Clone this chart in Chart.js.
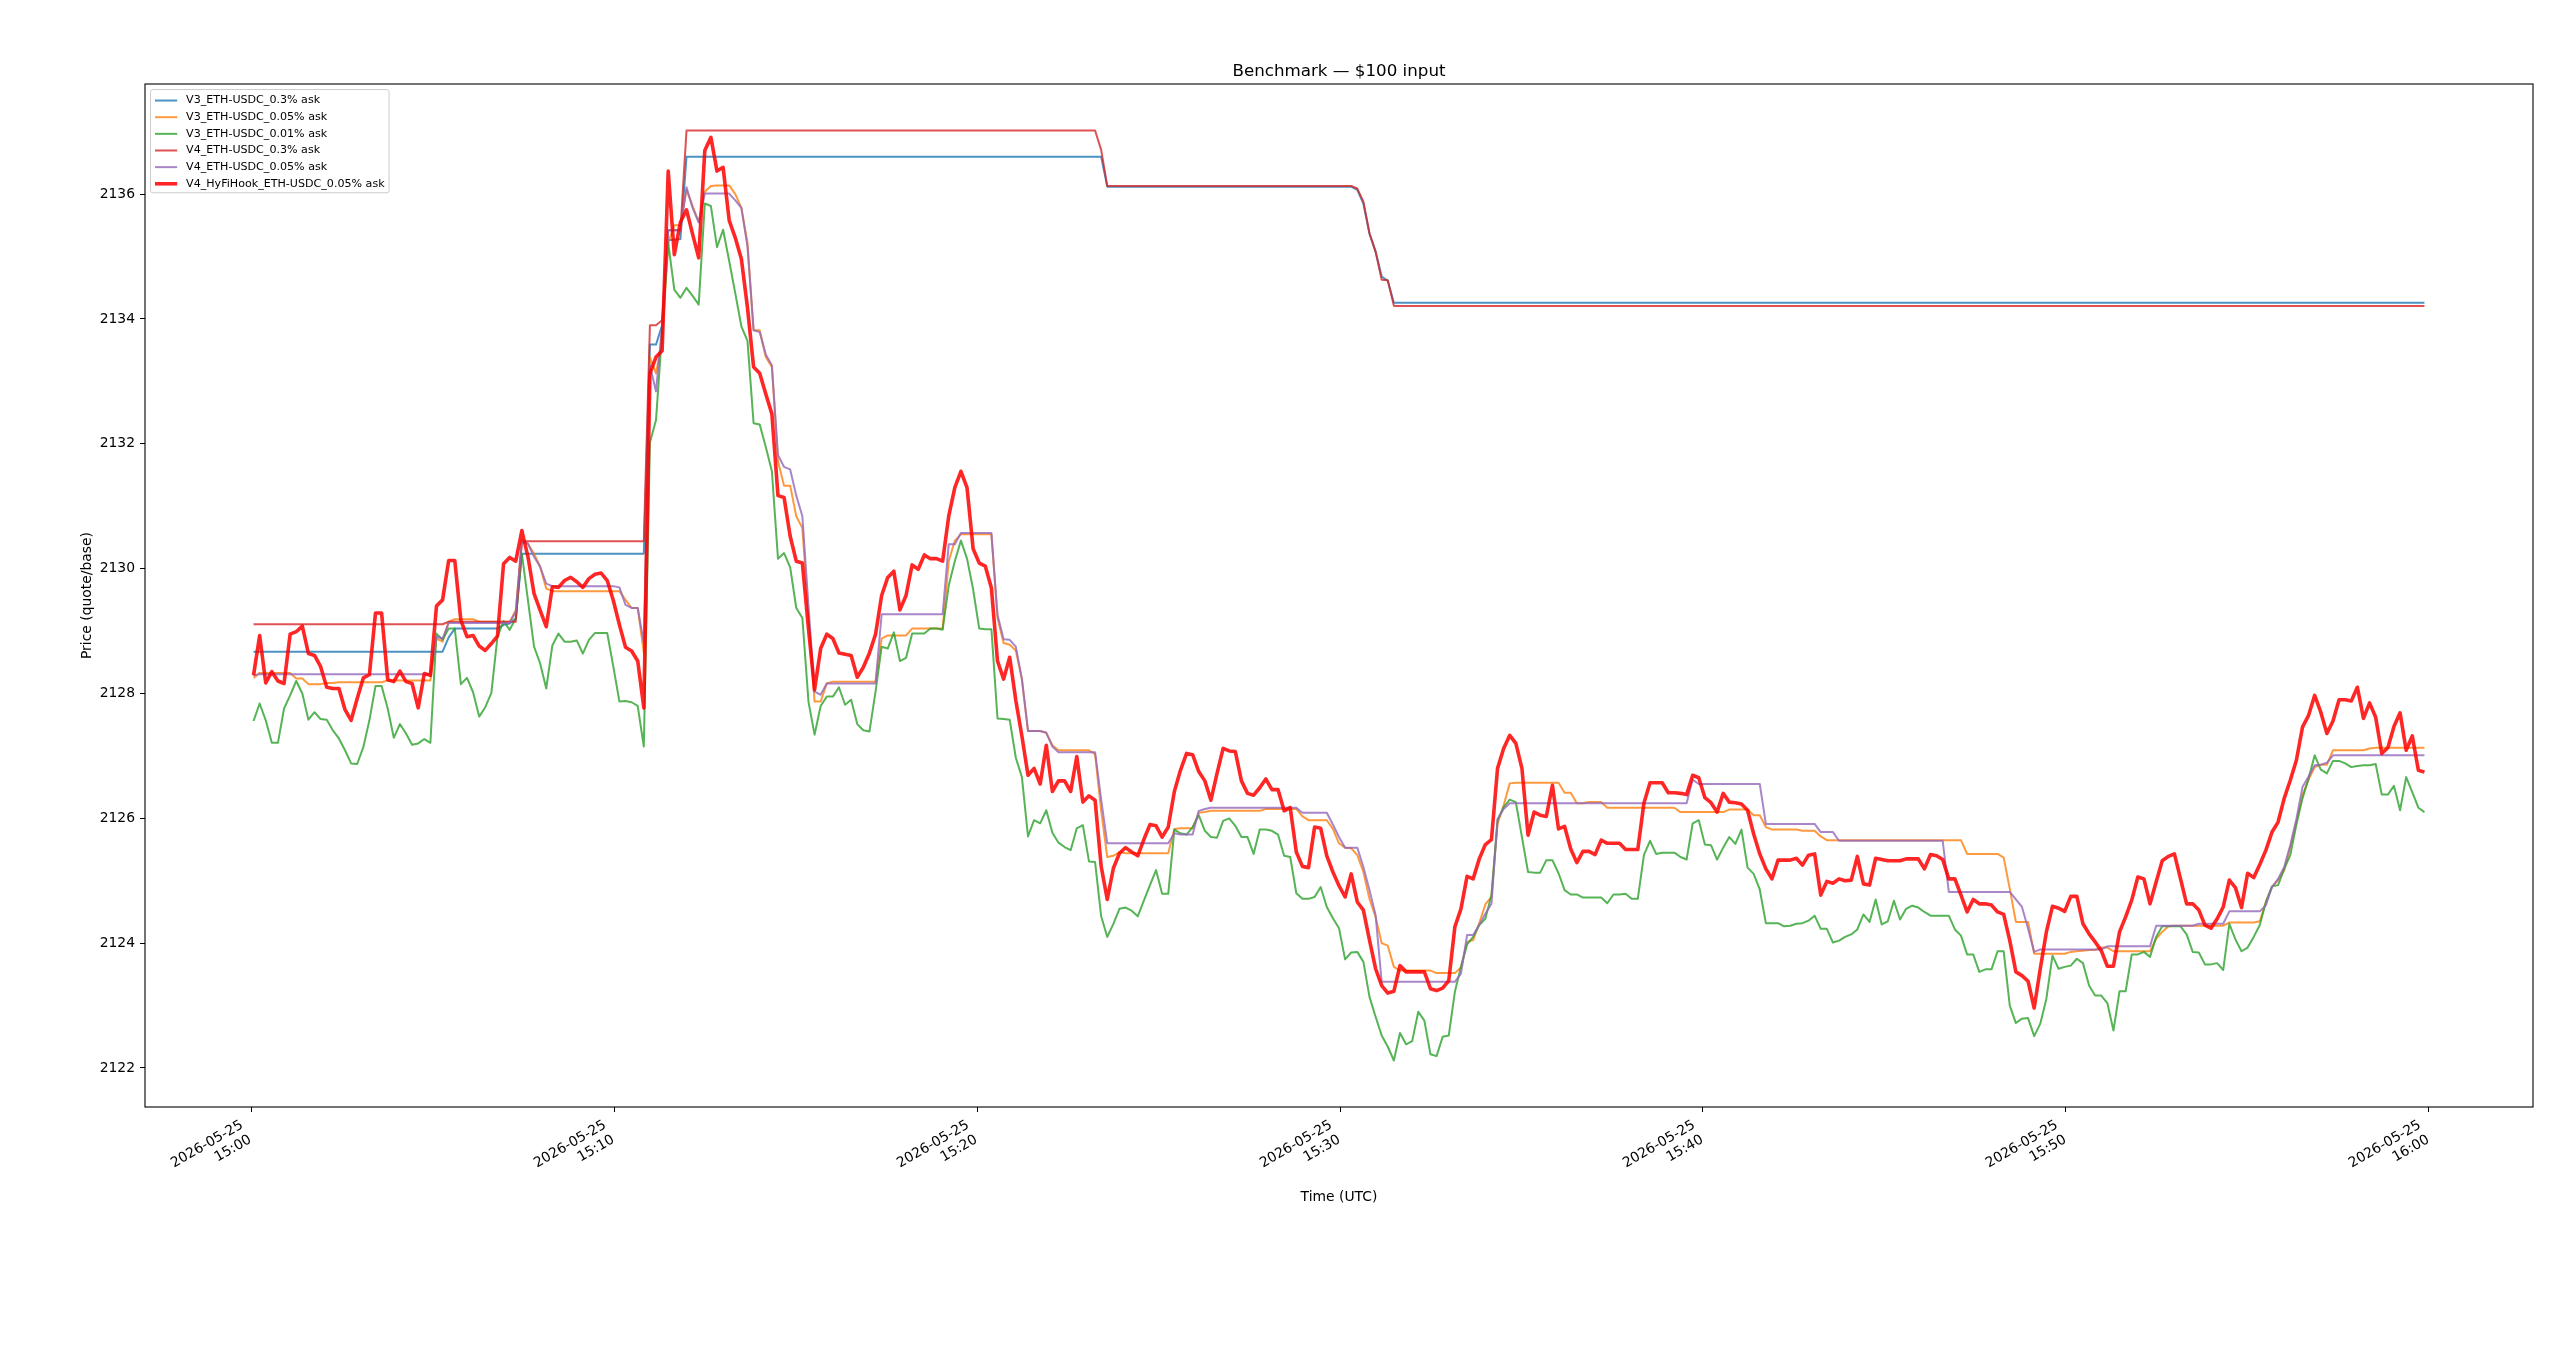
<!DOCTYPE html>
<html>
<head>
<meta charset="utf-8">
<title>Benchmark — $100 input</title>
<script src="https://cdn.jsdelivr.net/npm/chart.js@4.4.1/dist/chart.umd.min.js"></script>
<style>
  html, body { margin: 0; padding: 0; background: #fff; }
  #benchChart { display: block; width: 2560px; height: 1357px; }
</style>
</head>
<body>
<canvas id="benchChart" width="2560" height="1357"></canvas>
<script>
// samples are ~10 s apart, first one a few seconds after 15:00 UTC
const firstSampleSec = 4.1;
const sampleStepSec = 10.08;

const seriesLabels = [
  'V3_ETH-USDC_0.3% ask',
  'V3_ETH-USDC_0.05% ask',
  'V3_ETH-USDC_0.01% ask',
  'V4_ETH-USDC_0.3% ask',
  'V4_ETH-USDC_0.05% ask',
  'V4_HyFiHook_ETH-USDC_0.05% ask'
];

const timeTickSec = [0, 600, 1200, 1800, 2400, 3000, 3600];
const timeTickLabels = [
  ['2026-05-25', '15:00'], ['2026-05-25', '15:10'], ['2026-05-25', '15:20'],
  ['2026-05-25', '15:30'], ['2026-05-25', '15:40'], ['2026-05-25', '15:50'],
  ['2026-05-25', '16:00']
];
const priceTicks = [2122, 2124, 2126, 2128, 2130, 2132, 2134, 2136];

// step-like quotes: [sample index, price] at each corner
const v3Fee30Ask = [
  [0, 2128.67], [31, 2128.67], [32, 2128.90], [33, 2129.04], [40, 2129.04], [41, 2129.10], [42, 2129.12],
  [43, 2129.20], [44, 2130.24], [64, 2130.24], [65, 2133.59], [66, 2133.59], [67, 2133.90], [68, 2135.26],
  [70, 2135.28], [71, 2136.60], [139, 2136.60], [140, 2136.12], [180, 2136.12], [181, 2136.07], [182, 2135.85],
  [183, 2135.37], [184, 2135.08], [185, 2134.68], [186, 2134.61], [187, 2134.26], [356, 2134.26]
];

const v4Fee30Ask = [
  [0, 2129.11], [31, 2129.11], [32, 2129.15], [43, 2129.15], [44, 2130.44], [64, 2130.44], [65, 2133.90],
  [66, 2133.90], [67, 2133.98], [68, 2135.42], [70, 2135.42], [71, 2137.02], [138, 2137.02], [139, 2136.71],
  [140, 2136.13], [180, 2136.13], [181, 2136.09], [182, 2135.88], [183, 2135.37], [184, 2135.08], [185, 2134.63],
  [186, 2134.62], [187, 2134.21], [356, 2134.21]
];

const v3Fee05Ask = [
  [0, 2128.25], [1, 2128.33], [6, 2128.33], [7, 2128.24], [8, 2128.24], [9, 2128.15], [11, 2128.15],
  [12, 2128.17], [13, 2128.17], [14, 2128.18], [21, 2128.18], [22, 2128.21], [29, 2128.21], [30, 2128.88],
  [31, 2128.83], [32, 2129.15], [33, 2129.19], [36, 2129.19], [37, 2129.15], [42, 2129.15], [43, 2129.33],
  [44, 2130.46], [45, 2130.40], [46, 2130.24], [47, 2130.03], [48, 2129.68], [49, 2129.64], [60, 2129.64],
  [61, 2129.50], [62, 2129.37], [63, 2129.37], [64, 2128.65], [65, 2133.39], [66, 2133.13], [67, 2133.65],
  [68, 2135.22], [69, 2135.50], [70, 2135.50], [71, 2136.07], [72, 2135.81], [73, 2135.55], [74, 2136.04],
  [75, 2136.13], [76, 2136.14], [78, 2136.14], [79, 2136.00], [80, 2135.78], [81, 2135.22], [82, 2133.82],
  [83, 2133.82], [84, 2133.39], [85, 2133.23], [86, 2131.72], [87, 2131.33], [88, 2131.33], [89, 2130.84],
  [90, 2130.65], [91, 2129.27], [92, 2127.87], [93, 2127.87], [94, 2128.16], [95, 2128.19], [102, 2128.19],
  [103, 2128.88], [104, 2128.93], [107, 2128.93], [108, 2129.04], [113, 2129.04], [114, 2130.12], [115, 2130.45],
  [116, 2130.55], [121, 2130.55], [122, 2129.21], [123, 2128.81], [124, 2128.78], [125, 2128.69], [126, 2128.23],
  [127, 2127.40], [129, 2127.40], [130, 2127.37], [131, 2127.17], [132, 2127.09], [137, 2127.09], [138, 2127.03],
  [139, 2126.12], [140, 2125.38], [141, 2125.40], [142, 2125.46], [143, 2125.44], [150, 2125.44], [151, 2125.83],
  [152, 2125.84], [154, 2125.84], [155, 2126.09], [156, 2126.10], [157, 2126.12], [165, 2126.12], [166, 2126.15],
  [171, 2126.15], [172, 2126.03], [173, 2125.97], [176, 2125.97], [177, 2125.83], [178, 2125.60], [179, 2125.53],
  [180, 2125.52], [181, 2125.41], [182, 2125.14], [183, 2124.71], [184, 2124.42], [185, 2124.00], [186, 2123.96],
  [187, 2123.62], [188, 2123.56], [193, 2123.56], [194, 2123.52], [197, 2123.52], [198, 2123.61], [199, 2124.02],
  [200, 2124.05], [201, 2124.32], [202, 2124.62], [203, 2124.74], [204, 2125.91], [205, 2126.21], [206, 2126.56],
  [207, 2126.57], [214, 2126.57], [215, 2126.41], [216, 2126.41], [217, 2126.24], [218, 2126.24], [219, 2126.26],
  [221, 2126.26], [222, 2126.17], [233, 2126.17], [234, 2126.10], [241, 2126.10], [242, 2126.14], [245, 2126.14],
  [246, 2126.05], [247, 2126.05], [248, 2125.86], [249, 2125.82], [253, 2125.82], [254, 2125.80], [256, 2125.80],
  [257, 2125.71], [258, 2125.65], [280, 2125.65], [281, 2125.43], [286, 2125.43], [287, 2125.37], [288, 2124.87],
  [289, 2124.34], [291, 2124.34], [292, 2123.83], [297, 2123.83], [298, 2123.86], [299, 2123.87], [300, 2123.88],
  [301, 2123.89], [302, 2123.89], [303, 2123.93], [304, 2123.93], [305, 2123.87], [311, 2123.87], [312, 2124.07],
  [313, 2124.18], [314, 2124.27], [315, 2124.28], [323, 2124.28], [324, 2124.33], [328, 2124.33], [329, 2124.35],
  [330, 2124.66], [331, 2124.90], [332, 2125.01], [333, 2125.17], [334, 2125.54], [335, 2125.94], [336, 2126.37],
  [337, 2126.62], [338, 2126.82], [339, 2126.86], [340, 2126.86], [341, 2127.09], [346, 2127.09], [347, 2127.12],
  [348, 2127.13], [356, 2127.13]
];

const v4Fee05Ask = [
  [0, 2128.29], [1, 2128.31], [29, 2128.31], [30, 2128.91], [31, 2128.88], [32, 2129.13], [42, 2129.13],
  [43, 2129.31], [44, 2130.43], [45, 2130.40], [46, 2130.19], [47, 2130.03], [48, 2129.76], [49, 2129.72],
  [59, 2129.72], [60, 2129.70], [61, 2129.42], [62, 2129.37], [63, 2129.37], [64, 2128.81], [65, 2133.26],
  [66, 2132.84], [67, 2133.90], [68, 2135.42], [70, 2135.42], [71, 2136.11], [72, 2135.78], [73, 2135.55],
  [74, 2136.01], [78, 2136.01], [79, 2135.90], [80, 2135.78], [81, 2135.16], [82, 2133.82], [83, 2133.79],
  [84, 2133.43], [85, 2133.26], [86, 2131.82], [87, 2131.63], [88, 2131.59], [89, 2131.17], [90, 2130.84],
  [91, 2129.40], [92, 2128.03], [93, 2127.98], [94, 2128.16], [102, 2128.16], [103, 2129.27], [113, 2129.27],
  [114, 2130.39], [115, 2130.39], [116, 2130.57], [121, 2130.57], [122, 2129.26], [123, 2128.87], [124, 2128.86],
  [125, 2128.75], [126, 2128.23], [127, 2127.40], [129, 2127.40], [130, 2127.37], [131, 2127.15], [132, 2127.06],
  [138, 2127.06], [139, 2126.30], [140, 2125.60], [150, 2125.60], [151, 2125.76], [152, 2125.74], [154, 2125.74],
  [155, 2126.12], [156, 2126.15], [157, 2126.17], [171, 2126.17], [172, 2126.09], [176, 2126.09], [177, 2125.90],
  [178, 2125.70], [179, 2125.53], [181, 2125.53], [182, 2125.22], [183, 2124.85], [184, 2124.45], [185, 2123.38],
  [197, 2123.38], [198, 2123.51], [199, 2124.13], [200, 2124.13], [201, 2124.29], [202, 2124.47], [203, 2124.63],
  [204, 2125.99], [205, 2126.15], [206, 2126.24], [235, 2126.24], [236, 2126.62], [237, 2126.55], [247, 2126.55],
  [248, 2125.91], [256, 2125.91], [257, 2125.78], [259, 2125.78], [260, 2125.64], [277, 2125.64], [278, 2124.82],
  [288, 2124.82], [289, 2124.70], [290, 2124.58], [291, 2124.23], [292, 2123.86], [293, 2123.90], [303, 2123.90],
  [304, 2123.95], [311, 2123.95], [312, 2124.28], [318, 2124.28], [319, 2124.31], [323, 2124.31], [324, 2124.51],
  [329, 2124.51], [330, 2124.61], [331, 2124.90], [332, 2125.03], [333, 2125.22], [334, 2125.57], [335, 2125.99],
  [336, 2126.50], [337, 2126.67], [338, 2126.85], [339, 2126.86], [340, 2126.89], [341, 2127.01], [356, 2127.01]
];

// noisy quotes: one value per sample
const v3Fee01Ask = [
  2127.56, 2127.84, 2127.57, 2127.21, 2127.21, 2127.76, 2127.97, 2128.20, 2128.00, 2127.58,
  2127.70, 2127.59, 2127.58, 2127.41, 2127.28, 2127.09, 2126.88, 2126.87, 2127.14, 2127.57,
  2128.12, 2128.12, 2127.76, 2127.29, 2127.51, 2127.36, 2127.18, 2127.20, 2127.27, 2127.21,
  2128.96, 2128.86, 2129.04, 2129.04, 2128.15, 2128.25, 2128.02, 2127.63, 2127.78, 2128.01,
  2128.91, 2129.16, 2129.02, 2129.20, 2130.24, 2129.49, 2128.75, 2128.48, 2128.08, 2128.77,
  2128.96, 2128.83, 2128.83, 2128.85, 2128.64, 2128.86, 2128.97, 2128.97, 2128.97, 2128.43,
  2127.87, 2127.88, 2127.86, 2127.80, 2127.15, 2132.02, 2132.38, 2133.80, 2135.22, 2134.47,
  2134.34, 2134.50, 2134.37, 2134.23, 2135.85, 2135.81, 2135.15, 2135.43, 2134.93, 2134.41,
  2133.88, 2133.65, 2132.33, 2132.31, 2131.95, 2131.56, 2130.16, 2130.25, 2130.02, 2129.37,
  2129.21, 2127.87, 2127.34, 2127.80, 2127.95, 2127.95, 2128.10, 2127.82, 2127.90, 2127.51,
  2127.41, 2127.39, 2128.03, 2128.75, 2128.72, 2128.98, 2128.52, 2128.57, 2128.96, 2128.96,
  2128.96, 2129.04, 2129.04, 2129.02, 2129.73, 2130.12, 2130.45, 2130.16, 2129.67, 2129.04,
  2129.03, 2129.03, 2127.60, 2127.59, 2127.58, 2126.97, 2126.66, 2125.71, 2125.97, 2125.92,
  2126.13, 2125.77, 2125.61, 2125.54, 2125.49, 2125.84, 2125.89, 2125.31, 2125.30, 2124.43,
  2124.10, 2124.31, 2124.55, 2124.57, 2124.52, 2124.43, 2124.68, 2124.93, 2125.17, 2124.79,
  2124.79, 2125.82, 2125.76, 2125.74, 2125.86, 2126.05, 2125.80, 2125.70, 2125.69, 2125.96,
  2126.00, 2125.88, 2125.70, 2125.70, 2125.43, 2125.82, 2125.82, 2125.80, 2125.74, 2125.40,
  2125.38, 2124.80, 2124.71, 2124.71, 2124.74, 2124.90, 2124.58, 2124.40, 2124.24, 2123.74,
  2123.85, 2123.86, 2123.70, 2123.14, 2122.82, 2122.52, 2122.34, 2122.12, 2122.56, 2122.38,
  2122.43, 2122.90, 2122.76, 2122.22, 2122.19, 2122.50, 2122.52, 2123.22, 2123.62, 2123.98,
  2124.10, 2124.29, 2124.39, 2124.77, 2125.97, 2126.18, 2126.30, 2126.26, 2125.70, 2125.14,
  2125.13, 2125.13, 2125.33, 2125.33, 2125.12, 2124.85, 2124.78, 2124.78, 2124.73, 2124.73,
  2124.73, 2124.73, 2124.64, 2124.78, 2124.78, 2124.79, 2124.71, 2124.71, 2125.41, 2125.64,
  2125.43, 2125.45, 2125.45, 2125.45, 2125.38, 2125.34, 2125.92, 2125.97, 2125.58, 2125.57,
  2125.34, 2125.53, 2125.70, 2125.59, 2125.82, 2125.21, 2125.11, 2124.86, 2124.32, 2124.32,
  2124.32, 2124.27, 2124.28, 2124.31, 2124.32, 2124.36, 2124.44, 2124.23, 2124.23, 2124.01,
  2124.04, 2124.10, 2124.14, 2124.22, 2124.46, 2124.34, 2124.70, 2124.30, 2124.35, 2124.68,
  2124.38, 2124.55, 2124.60, 2124.57, 2124.50, 2124.44, 2124.44, 2124.44, 2124.44, 2124.22,
  2124.12, 2123.82, 2123.82, 2123.54, 2123.58, 2123.58, 2123.87, 2123.87, 2123.00, 2122.72,
  2122.79, 2122.80, 2122.51, 2122.71, 2123.11, 2123.80, 2123.59, 2123.62, 2123.64, 2123.75,
  2123.68, 2123.32, 2123.16, 2123.16, 2123.04, 2122.60, 2123.23, 2123.23, 2123.82, 2123.82,
  2123.86, 2123.78, 2124.10, 2124.27, 2124.27, 2124.27, 2124.27, 2124.14, 2123.86, 2123.85,
  2123.66, 2123.66, 2123.68, 2123.57, 2124.31, 2124.06, 2123.87, 2123.93, 2124.10, 2124.29,
  2124.66, 2124.91, 2124.93, 2125.19, 2125.41, 2125.90, 2126.32, 2126.64, 2127.01, 2126.78,
  2126.72, 2126.92, 2126.92, 2126.88, 2126.82, 2126.84, 2126.85, 2126.85, 2126.87, 2126.38,
  2126.38, 2126.52, 2126.13, 2126.66, 2126.42, 2126.17, 2126.10
];

const hyfiAsk = [
  2128.29, 2128.93, 2128.17, 2128.35, 2128.20, 2128.16, 2128.95, 2128.99, 2129.08, 2128.64,
  2128.61, 2128.43, 2128.10, 2128.08, 2128.08, 2127.74, 2127.57, 2127.92, 2128.25, 2128.30,
  2129.29, 2129.29, 2128.22, 2128.19, 2128.36, 2128.19, 2128.16, 2127.77, 2128.32, 2128.29,
  2129.40, 2129.50, 2130.13, 2130.13, 2129.17, 2128.91, 2128.93, 2128.76, 2128.69, 2128.80,
  2128.92, 2130.08, 2130.18, 2130.12, 2130.61, 2130.19, 2129.60, 2129.33, 2129.07, 2129.71,
  2129.70, 2129.81, 2129.86, 2129.79, 2129.70, 2129.84, 2129.91, 2129.93, 2129.81, 2129.49,
  2129.10, 2128.74, 2128.68, 2128.52, 2127.77, 2133.13, 2133.39, 2133.49, 2136.37, 2135.03,
  2135.55, 2135.75, 2135.36, 2134.98, 2136.70, 2136.91, 2136.37, 2136.43, 2135.58, 2135.30,
  2134.96, 2134.18, 2133.23, 2133.13, 2132.80, 2132.48, 2131.17, 2131.14, 2130.52, 2130.12,
  2130.09, 2129.04, 2128.06, 2128.72, 2128.95, 2128.88, 2128.65, 2128.63, 2128.61, 2128.26,
  2128.42, 2128.65, 2128.95, 2129.57, 2129.86, 2129.96, 2129.34, 2129.57, 2130.06, 2129.99,
  2130.22, 2130.16, 2130.16, 2130.12, 2130.84, 2131.30, 2131.56, 2131.30, 2130.32, 2130.09,
  2130.04, 2129.69, 2128.52, 2128.23, 2128.58, 2127.89, 2127.32, 2126.69, 2126.80, 2126.55,
  2127.17, 2126.43, 2126.60, 2126.60, 2126.43, 2126.99, 2126.26, 2126.36, 2126.29, 2125.23,
  2124.70, 2125.20, 2125.44, 2125.53, 2125.46, 2125.40, 2125.66, 2125.90, 2125.88, 2125.70,
  2125.86, 2126.43, 2126.77, 2127.04, 2127.02, 2126.75, 2126.60, 2126.29, 2126.72, 2127.12,
  2127.08, 2127.07, 2126.60, 2126.40, 2126.37, 2126.49, 2126.63, 2126.46, 2126.46, 2126.12,
  2126.17, 2125.46, 2125.23, 2125.21, 2125.86, 2125.84, 2125.40, 2125.14, 2124.92, 2124.74,
  2125.11, 2124.66, 2124.53, 2124.05, 2123.59, 2123.32, 2123.20, 2123.23, 2123.64, 2123.54,
  2123.54, 2123.54, 2123.54, 2123.27, 2123.24, 2123.28, 2123.40, 2124.26, 2124.55, 2125.07,
  2125.03, 2125.35, 2125.58, 2125.66, 2126.80, 2127.12, 2127.33, 2127.20, 2126.80, 2125.73,
  2126.10, 2126.05, 2126.03, 2126.53, 2125.83, 2125.87, 2125.51, 2125.29, 2125.47, 2125.47,
  2125.42, 2125.65, 2125.60, 2125.60, 2125.60, 2125.50, 2125.50, 2125.50, 2126.24, 2126.57,
  2126.57, 2126.57, 2126.41, 2126.41, 2126.40, 2126.38, 2126.69, 2126.65, 2126.33, 2126.25,
  2126.10, 2126.40, 2126.26, 2126.25, 2126.23, 2126.13, 2125.75, 2125.43, 2125.19, 2125.03,
  2125.33, 2125.33, 2125.33, 2125.36, 2125.25, 2125.41, 2125.43, 2124.77, 2124.99, 2124.96,
  2125.03, 2125.00, 2125.01, 2125.39, 2124.95, 2124.93, 2125.36, 2125.34, 2125.32, 2125.32,
  2125.32, 2125.35, 2125.35, 2125.35, 2125.19, 2125.42, 2125.40, 2125.34, 2125.03, 2125.03,
  2124.77, 2124.50, 2124.70, 2124.63, 2124.63, 2124.61, 2124.50, 2124.46, 2124.04, 2123.54,
  2123.48, 2123.39, 2122.96, 2123.59, 2124.18, 2124.59, 2124.56, 2124.51, 2124.75, 2124.75,
  2124.31, 2124.15, 2124.02, 2123.88, 2123.63, 2123.63, 2124.18, 2124.42, 2124.69, 2125.06,
  2125.03, 2124.63, 2124.98, 2125.32, 2125.39, 2125.43, 2125.03, 2124.63, 2124.63, 2124.53,
  2124.29, 2124.24, 2124.39, 2124.58, 2125.01, 2124.89, 2124.57, 2125.12, 2125.05, 2125.26,
  2125.49, 2125.78, 2125.94, 2126.32, 2126.61, 2126.93, 2127.46, 2127.65, 2127.97, 2127.70,
  2127.36, 2127.56, 2127.90, 2127.90, 2127.88, 2128.10, 2127.60, 2127.85, 2127.62, 2127.04,
  2127.13, 2127.47, 2127.69, 2127.09, 2127.32, 2126.77, 2126.74
];

const seriesColors = [
  'rgba(31,119,180,0.8)', 'rgba(255,127,14,0.8)', 'rgba(44,160,44,0.8)',
  'rgba(214,39,40,0.8)', 'rgba(148,103,189,0.8)', 'rgba(255,0,0,0.85)'
];
const seriesWidths = [2, 2, 2, 2, 2, 3.6];

const sampleTime = k => firstSampleSec + k * sampleStepSec;
const fullPoints = values => values.map((y, k) => ({ x: sampleTime(k), y }));
const stepPoints = pairs => pairs.map(([k, y]) => ({ x: sampleTime(k), y }));

const seriesData = [
  stepPoints(v3Fee30Ask),
  stepPoints(v3Fee05Ask),
  fullPoints(v3Fee01Ask),
  stepPoints(v4Fee30Ask),
  stepPoints(v4Fee05Ask),
  fullPoints(hyfiAsk)
];

// matplotlib-like 5% margins around the data
const allX = seriesData.flat().map(p => p.x);
const allY = seriesData.flat().map(p => p.y);
const xLo = Math.min(...allX), xHi = Math.max(...allX);
const yLo = Math.min(...allY), yHi = Math.max(...allY);
const xPad = (xHi - xLo) * 0.05, yPad = (yHi - yLo) * 0.05;

const font = '"DejaVu Sans", "Liberation Sans", sans-serif';
Chart.defaults.font.family = font;
Chart.defaults.color = '#000';

const framePlugin = {
  id: 'frameAndTitle',
  afterDatasetsDraw(chart) {
    const { ctx, chartArea: a } = chart;
    ctx.save();
    ctx.strokeStyle = '#000';
    ctx.lineWidth = 1.1;
    ctx.strokeRect(a.left, a.top, a.right - a.left, a.bottom - a.top);

    ctx.fillStyle = '#000';
    ctx.font = '16.7px ' + font;
    ctx.textAlign = 'center';
    ctx.textBaseline = 'alphabetic';
    ctx.fillText('Benchmark — $100 input', (a.left + a.right) / 2, a.top - 8);

    // legend box in the upper left corner of the axes
    const fs = 11.1;
    const rowH = fs + 0.5 * fs;
    const ds = chart.data.datasets;
    ctx.font = fs + 'px ' + font;
    const textW = Math.max(...ds.map(d => ctx.measureText(d.label).width));
    const bx = a.left + 0.5 * fs, by = a.top + 0.5 * fs;
    const bw = 0.4 * fs + 2 * fs + 0.8 * fs + textW + 0.4 * fs;
    const bh = 0.8 * fs + ds.length * rowH - 0.5 * fs;
    ctx.beginPath();
    if (ctx.roundRect) ctx.roundRect(bx, by, bw, bh, 2.2); else ctx.rect(bx, by, bw, bh);
    ctx.fillStyle = 'rgba(255,255,255,0.8)';
    ctx.fill();
    ctx.strokeStyle = '#cccccc';
    ctx.lineWidth = 1;
    ctx.stroke();

    ctx.textAlign = 'left';
    ctx.textBaseline = 'middle';
    ds.forEach((d, i) => {
      const cy = by + 0.4 * fs + fs / 2 + i * rowH + 1;
      const hx = bx + 0.4 * fs;
      ctx.beginPath();
      ctx.moveTo(hx, cy);
      ctx.lineTo(hx + 2 * fs, cy);
      ctx.strokeStyle = d.borderColor;
      ctx.lineWidth = d.borderWidth;
      ctx.stroke();
      ctx.fillStyle = '#000';
      ctx.fillText(d.label, hx + 2.8 * fs, cy);
    });
    ctx.restore();
  }
};

const ctx = document.getElementById('benchChart').getContext('2d');
const benchChart = new Chart(ctx, {
  type: 'line',
  data: {
    datasets: seriesData.map((data, i) => ({
      label: seriesLabels[i],
      data,
      borderColor: seriesColors[i],
      borderWidth: seriesWidths[i],
      borderJoinStyle: 'round',
      pointRadius: 0,
      tension: 0,
      fill: false,
      order: seriesData.length - 1 - i
    }))
  },
  options: {
    responsive: false,
    animation: false,
    devicePixelRatio: 1,
    parsing: false,
    events: [],
    layout: { padding: { left: 0, top: 84, right: 27, bottom: 0 }, autoPadding: false },
    plugins: {
      legend: { display: false },
      title: { display: false },
      tooltip: { enabled: false }
    },
    scales: {
      x: {
        type: 'linear',
        min: xLo - xPad,
        max: xHi + xPad,
        afterFit: scale => { scale.height = 250; },
        afterBuildTicks: axis => { axis.ticks = timeTickSec.map(v => ({ value: v })); },
        ticks: {
          autoSkip: false,
          minRotation: 30,
          maxRotation: 30,
          padding: 5,
          labelOffset: -9,
          font: { size: 13.9 },
          color: '#000',
          callback: (value, index) => timeTickLabels[index]
        },
        grid: { drawOnChartArea: false, drawTicks: true, tickLength: 5, color: '#000' },
        border: { display: false },
        title: {
          display: true,
          text: 'Time (UTC)',
          font: { size: 13.9 },
          color: '#000',
          padding: { top: 0, bottom: 151 }
        }
      },
      y: {
        type: 'linear',
        min: yLo - yPad,
        max: yHi + yPad,
        afterFit: scale => { scale.width = 145; },
        afterBuildTicks: axis => { axis.ticks = priceTicks.map(v => ({ value: v })); },
        ticks: {
          padding: 5,
          font: { size: 13.9 },
          color: '#000',
          callback: value => String(value)
        },
        grid: { drawOnChartArea: false, drawTicks: true, tickLength: 5, color: '#000' },
        border: { display: false },
        title: {
          display: true,
          text: 'Price (quote/base)',
          font: { size: 13.9 },
          color: '#000',
          padding: { top: 79, bottom: 0 }
        }
      }
    }
  },
  plugins: [framePlugin]
});
</script>
</body>
</html>
